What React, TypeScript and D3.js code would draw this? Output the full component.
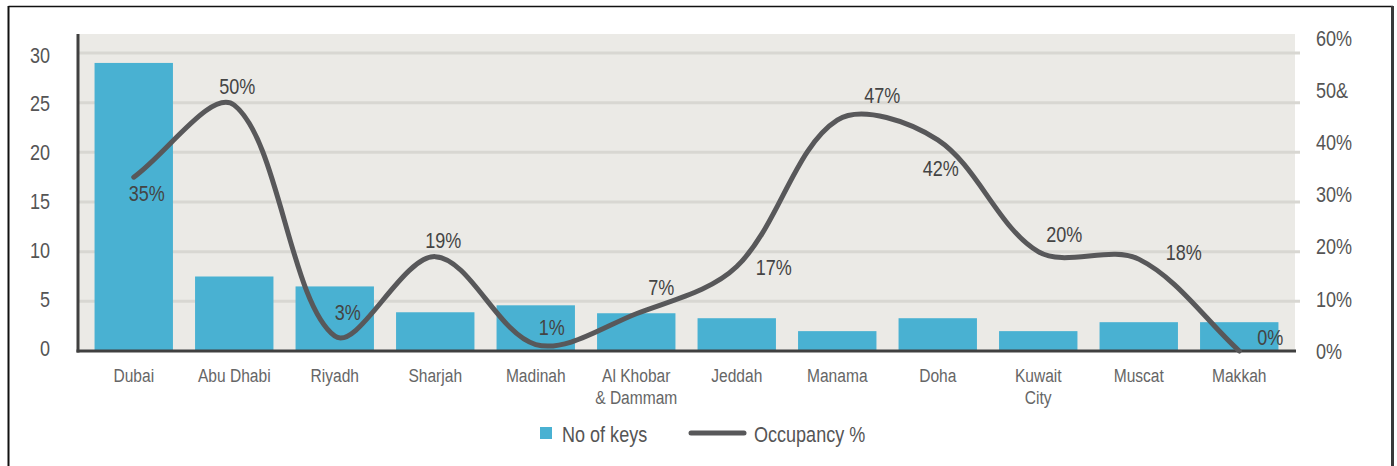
import React from "react";
import * as d3 from "d3";

const categories = ["Dubai", "Abu Dhabi", "Riyadh", "Sharjah", "Madinah", "Al Khobar\n& Dammam", "Jeddah", "Manama", "Doha", "Kuwait\nCity", "Muscat", "Makkah"];
const keysValues = [29, 7.5, 6.5, 3.9, 4.6, 3.8, 3.3, 2.0, 3.3, 2.0, 2.9, 2.9];
const occupancyValues = [35, 49.5, 3, 19, 1.3, 7.5, 17, 46.5, 42.5, 20, 18.5, 0];
const occupancyLabels = ["35%", "50%", "3%", "19%", "1%", "7%", "17%", "47%", "42%", "20%", "18%", "0%"];
const leftTicks = [0, 5, 10, 15, 20, 25, 30];
const rightTicks = [0, 10, 20, 30, 40, 50, 60];
const rightTickLabels = ["0%", "10%", "20%", "30%", "40%", "50&", "60%"];
// label placement offsets relative to each line point
const labelDx = [13, 3, 13, 8, 16, 25, 37, 45, 3, 26, 45, 31];
const labelDy = [16, -19, -24, -16, -17, -26, 1, -25, 28, -17, -7, -14];

const FONT = "'Liberation Sans', Arial, sans-serif";
const TEXT = "#555555";
const NARROW = 0.82;

function NText(props: { x: number; y: number; anchor?: string; size: number; fill?: string; children: React.ReactNode; central?: boolean }) {
  const { x, y, anchor = "start", size, fill = TEXT, children, central } = props;
  return (
    <text transform={`translate(${x},${y}) scale(${NARROW},1)`} x={0} y={0} textAnchor={anchor}
      dominantBaseline={central ? "central" : undefined} fontSize={size} fill={fill}>{children}</text>
  );
}

// Spreadsheet-style smoothing: bezier with chord-length weighted tangents
function smoothPath(pts: [number, number][]) {
  const p = d3.path();
  const n = pts.length;
  const dist = (a: [number, number], b: [number, number]) => Math.hypot(b[0] - a[0], b[1] - a[1]);
  p.moveTo(pts[0][0], pts[0][1]);
  for (let i = 0; i < n - 1; i++) {
    const p0 = pts[Math.max(0, i - 1)], p1 = pts[i], p2 = pts[i + 1], p3 = pts[Math.min(n - 1, i + 2)];
    const d01 = dist(p0, p1), d12 = dist(p1, p2), d23 = dist(p2, p3);
    const f1 = d01 + d12 > 0 ? d12 / (d01 + d12) / 3 : 0;
    const f2 = d12 + d23 > 0 ? d12 / (d12 + d23) / 3 : 0;
    const c1: [number, number] = [p1[0] + (p2[0] - p0[0]) * f1, p1[1] + (p2[1] - p0[1]) * f1];
    const c2: [number, number] = [p2[0] - (p3[0] - p1[0]) * f2, p2[1] - (p3[1] - p1[1]) * f2];
    p.bezierCurveTo(c1[0], c1[1], c2[0], c2[1], p2[0], p2[1]);
  }
  return p.toString();
}

export default function App() {
  const W = 1397, H = 466;
  const plotL = 78, plotR = 1295, plotT = 34, plotB = 351;
  const x = d3.scaleBand<string>().domain(categories).range([83.5, 1289.5]).paddingInner(0.22).paddingOuter(0.11);
  const yL = d3.scaleLinear().domain([0, 30]).range([plotB, 53]);
  const yR = d3.scaleLinear().domain([0, 60]).range([plotB, 53]);
  // tick label placement scales
  const yLLab = d3.scaleLinear().domain([0, 30]).range([348, 55]);
  const yRLab = d3.scaleLinear().domain([0, 60]).range([351, 38.5]);
  const cx = (c: string) => (x(c) as number) + x.bandwidth() / 2;
  const pts: [number, number][] = categories.map((c, i) => [cx(c), yR(occupancyValues[i])]);
  const line = smoothPath(pts);

  return (
    <svg width={W} height={H} style={{ position: "absolute", left: 0, top: 0, display: "block", background: "#fff" }} fontFamily={FONT}>
      {/* outer frame */}
      <line x1={8.5} y1={6.5} x2={1393} y2={6.5} stroke="#111" strokeWidth={1.5} />
      <line x1={8.5} y1={6} x2={8.5} y2={H} stroke="#111" strokeWidth={2} />
      <line x1={1392.5} y1={6} x2={1392.5} y2={H} stroke="#3a3a3a" strokeWidth={3} />
      {/* plot background */}
      <rect x={plotL} y={plotT} width={plotR - plotL} height={plotB - plotT} fill="#ebeae6" />
      {leftTicks.filter(t => t > 0).map(t => (
        <line key={t} x1={plotL} x2={1300} y1={yL(t)} y2={yL(t)} stroke="#d8d7d2" strokeWidth={3} />
      ))}
      {/* bars */}
      {categories.map((c, i) => (
        <rect key={c} x={x(c)} y={yL(keysValues[i])} width={x.bandwidth()} height={plotB - yL(keysValues[i])} fill="#49b1d2" />
      ))}
      {/* axes */}
      <line x1={plotL} x2={plotL} y1={plotT} y2={plotB + 1.5} stroke="#404040" strokeWidth={3} />
      <line x1={plotL - 1.5} x2={plotR + 1} y1={plotB} y2={plotB} stroke="#404040" strokeWidth={3} />
      {/* line */}
      <path d={line} fill="none" stroke="#58585a" strokeWidth={5} strokeLinecap="round" strokeLinejoin="round" />
      {/* left ticks */}
      {leftTicks.map(t => (
        <NText key={t} x={50} y={yLLab(t)} anchor="end" size={22} central>{t}</NText>
      ))}
      {/* right ticks */}
      {rightTicks.map((t, i) => (
        <NText key={t} x={1316} y={yRLab(t)} size={22} central>{rightTickLabels[i]}</NText>
      ))}
      {/* category labels */}
      {categories.map(c => (
        c.split("\n").map((s, j) => (
          <NText key={c + j} x={cx(c)} y={382 + j * 22} anchor="middle" size={19} fill="#666">{s}</NText>
        ))
      ))}
      {/* data labels */}
      {occupancyLabels.map((v, i) => (
        <NText key={i} x={pts[i][0] + labelDx[i]} y={pts[i][1] + labelDy[i]} anchor="middle" size={22} fill="#444" central>{v}</NText>
      ))}
      {/* legend */}
      <rect x={540} y={427} width={12} height={12} fill="#49b1d2" />
      <NText x={562} y={442} size={22}>No of keys</NText>
      <line x1={691} x2={744} y1={433} y2={433} stroke="#58585a" strokeWidth={5} strokeLinecap="round" />
      <NText x={754} y={442} size={22}>Occupancy %</NText>
    </svg>
  );
}
